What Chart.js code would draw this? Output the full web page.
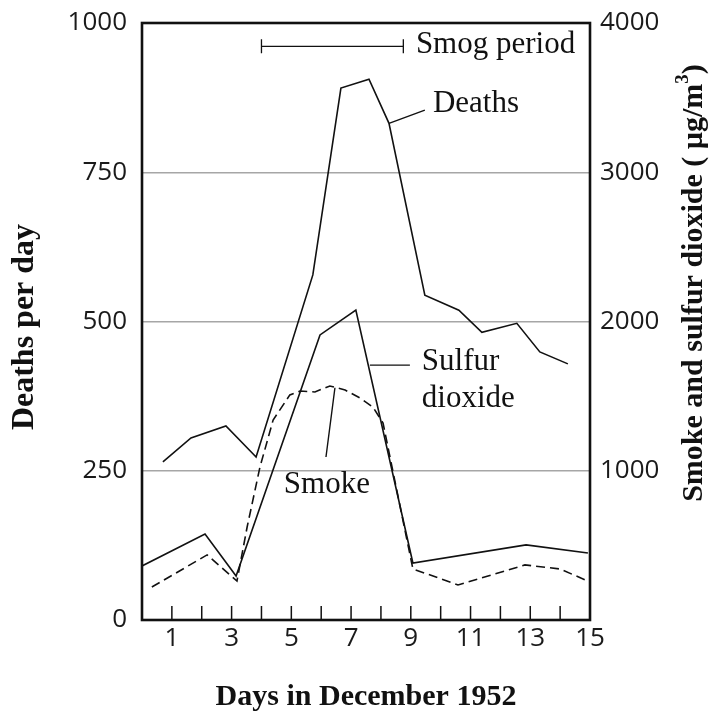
<!DOCTYPE html>
<html>
<head>
<meta charset="utf-8">
<script src="https://cdn.jsdelivr.net/npm/chart.js@4/dist/chart.umd.min.js"></script>
<style>
  html, body { margin: 0; padding: 0; background: #fff; }
  #wrap { width: 710px; height: 713px; }
</style>
</head>
<body>
<div id="wrap"><canvas id="smog" width="710" height="713"></canvas></div>
<script>
// London smog, December 1952
const deathsDays = [0.70, 1.64, 2.81, 3.82, 5.72, 6.66, 7.60, 8.27, 9.47, 10.61, 11.38, 12.55, 13.32, 14.26];
const deathsPerDay = [265, 305, 325, 273, 578, 891, 906, 832, 544, 519, 482, 497, 449, 429];

const so2Days = [0.0, 2.11, 3.15, 5.96, 7.16, 9.07, 12.86, 14.93];
const so2Values = [362, 576, 295, 1910, 2077, 382, 503, 449];

const smokeDays = [0.33, 2.18, 3.18, 3.52, 3.95, 4.39, 4.95, 5.29, 5.79, 6.29, 6.80, 7.30, 7.73, 8.07, 9.07, 10.58, 12.82, 13.99, 14.93];
const smokeValues = [221, 436, 261, 623, 1025, 1340, 1508, 1534, 1528, 1568, 1541, 1487, 1427, 1320, 342, 235, 369, 342, 261];

const deathTicks = [0, 250, 500, 750, 1000];
const pollutionTicks = [0, 1000, 2000, 3000, 4000];
const dayLabels = [1, 3, 5, 7, 9, 11, 13, 15];

// annotation anchors, in (day, deaths-axis) units
const smogPeriod = { from: 4.0, to: 8.75, level: 961 };
const leaders = [
  [[8.27, 832], [9.47, 854]],
  [[7.63, 427], [8.97, 427]],
  [[6.46, 389], [6.16, 273]],
];
const notes = [
  { text: 'Smog period', x: 9.17, y: 950 },
  { text: 'Deaths', x: 9.74, y: 851 },
  { text: 'Sulfur', x: 9.37, y: 419 },
  { text: 'dioxide', x: 9.37, y: 357 },
  { text: 'Smoke', x: 4.75, y: 213 },
];

const SANS = '"Open Sans", "Noto Sans", sans-serif';
const SERIF = '"Liberation Serif", "DejaVu Serif", serif';
const INK = '#111';

const pairs = (xs, ys) => xs.map((x, i) => ({ x, y: ys[i] }));

const framePlugin = {
  id: 'frame',
  afterDatasetsDraw(chart) {
    const { ctx, chartArea: a, scales } = chart;
    const sx = scales.x, sy = scales.y;
    ctx.save();
    ctx.strokeStyle = INK;
    ctx.fillStyle = INK;

    // inward day ticks
    ctx.lineWidth = 1.5;
    ctx.beginPath();
    for (let d = 1; d < 15; d++) {
      const px = sx.getPixelForValue(d);
      ctx.moveTo(px, a.bottom);
      ctx.lineTo(px, a.bottom - 14);
    }
    ctx.stroke();

    // plot frame
    ctx.lineWidth = 2.6;
    ctx.strokeRect(a.left, a.top, a.right - a.left, a.bottom - a.top);

    // smog period bar
    ctx.lineWidth = 1.3;
    const x0 = sx.getPixelForValue(smogPeriod.from);
    const x1 = sx.getPixelForValue(smogPeriod.to);
    const yb = sy.getPixelForValue(smogPeriod.level);
    ctx.beginPath();
    ctx.moveTo(x0, yb); ctx.lineTo(x1, yb);
    ctx.moveTo(x0, yb - 7); ctx.lineTo(x0, yb + 7);
    ctx.moveTo(x1, yb - 7); ctx.lineTo(x1, yb + 7);
    ctx.stroke();

    // leader lines
    ctx.lineWidth = 1.4;
    ctx.beginPath();
    leaders.forEach(([p, q]) => {
      ctx.moveTo(sx.getPixelForValue(p[0]), sy.getPixelForValue(p[1]));
      ctx.lineTo(sx.getPixelForValue(q[0]), sy.getPixelForValue(q[1]));
    });
    ctx.stroke();

    // series labels
    ctx.font = '31px ' + SERIF;
    ctx.textAlign = 'left';
    ctx.textBaseline = 'alphabetic';
    notes.forEach(n => ctx.fillText(n.text, sx.getPixelForValue(n.x), sy.getPixelForValue(n.y)));

    // axis titles
    ctx.font = 'bold 30px ' + SERIF;
    ctx.textAlign = 'center';
    ctx.fillText('Days in December 1952', (a.left + a.right) / 2, 705);

    ctx.save();
    ctx.translate(33, 327);
    ctx.rotate(-Math.PI / 2);
    ctx.font = 'bold 32px ' + SERIF;
    ctx.fillText('Deaths per day', 0, 0);
    ctx.restore();

    ctx.save();
    ctx.translate(702, 283);
    ctx.rotate(-Math.PI / 2);
    const main = 'Smoke and sulfur dioxide ( \u00b5g/m';
    ctx.font = 'bold 30px ' + SERIF;
    const wMain = ctx.measureText(main).width;
    const wTail = ctx.measureText(')').width;
    ctx.font = 'bold 19px ' + SERIF;
    const wSup = ctx.measureText('3').width;
    let cx = -(wMain + wSup + wTail) / 2;
    ctx.textAlign = 'left';
    ctx.font = 'bold 30px ' + SERIF;
    ctx.fillText(main, cx, 0);
    cx += wMain;
    ctx.font = 'bold 19px ' + SERIF;
    ctx.fillText('3', cx, -14);
    cx += wSup;
    ctx.font = 'bold 30px ' + SERIF;
    ctx.fillText(')', cx, 0);
    ctx.restore();

    ctx.restore();
  }
};

const lineStyle = {
  borderColor: INK,
  borderWidth: 1.6,
  pointRadius: 0,
  tension: 0,
  fill: false,
};

// fixed axis widths; labels may overhang the plot edges like the original
const fixWidth = w => s => { s.width = w; s.paddingTop = 0; s.paddingBottom = 0; };

new Chart(document.getElementById('smog'), {
  type: 'line',
  data: {
    datasets: [
      { label: 'Deaths', data: pairs(deathsDays, deathsPerDay), yAxisID: 'y', ...lineStyle },
      { label: 'Sulfur dioxide', data: pairs(so2Days, so2Values), yAxisID: 'y2', ...lineStyle },
      { label: 'Smoke', data: pairs(smokeDays, smokeValues), yAxisID: 'y2', ...lineStyle, borderDash: [9, 5] },
    ]
  },
  plugins: [framePlugin],
  options: {
    responsive: false,
    animation: false,
    layout: { padding: { top: 23, left: 0, right: 0, bottom: 0 } },
    plugins: { legend: { display: false }, tooltip: { enabled: false } },
    scales: {
      x: {
        type: 'linear',
        min: 0, max: 15,
        afterFit: s => { s.height = 93; s.paddingLeft = 0; s.paddingRight = 0; },
        afterBuildTicks: s => { s.ticks = dayLabels.map(v => ({ value: v })); },
        grid: { display: false },
        border: { display: false },
        ticks: {
          autoSkip: false,
          maxRotation: 0,
          padding: -5,
          color: '#1a1a1a',
          font: { family: SANS, size: 26 },
          callback: v => String(v),
        },
      },
      y: {
        position: 'left',
        min: 0, max: 1000,
        afterFit: fixWidth(142),
        afterBuildTicks: s => { s.ticks = deathTicks.map(v => ({ value: v })); },
        grid: { color: '#a6a6a6', lineWidth: 1.5, drawTicks: false },
        border: { display: false },
        ticks: {
          padding: 15,
          color: '#1a1a1a',
          font: { family: SANS, size: 26 },
          callback: v => String(v),
        },
      },
      y2: {
        position: 'right',
        min: 0, max: 4000,
        afterFit: fixWidth(120),
        afterBuildTicks: s => { s.ticks = pollutionTicks.map(v => ({ value: v })); },
        grid: { display: false },
        border: { display: false },
        ticks: {
          padding: 2,
          color: '#1a1a1a',
          font: { family: SANS, size: 26 },
          callback: v => (v === 0 ? '' : String(v)),
        },
      },
    }
  }
});
</script>
</body>
</html>
